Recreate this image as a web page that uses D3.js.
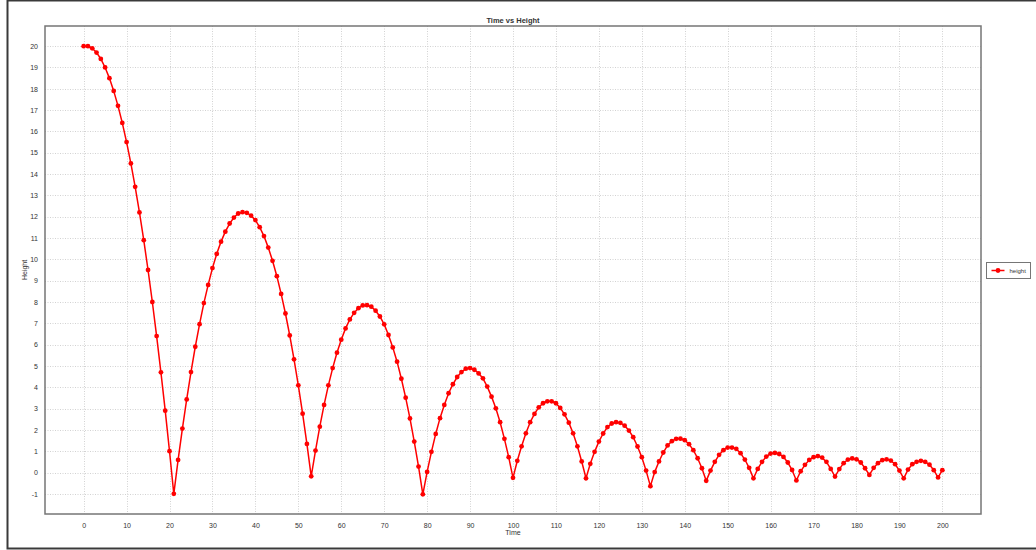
<!DOCTYPE html>
<html>
<head>
    <meta charset="utf-8">
    <title>Time vs Height</title>
    <script src="https://d3js.org/d3.v7.min.js"></script>
    <style>
        body { margin: 0; background: #fff; }
        text { font-family: "Liberation Sans", Arial, sans-serif; fill: #333; }
        .grid line { stroke: #d2d2d2; stroke-width: 1px; stroke-dasharray: 1,1.5; }
        .series path { fill: none; stroke: #ff0000; stroke-width: 1.5px; }
        .series circle { fill: #ff0000; }
    </style>
</head>
<body>
<script type="text/javascript">
    // heights, one array per bounce
    let drop0   = [20, 20, 19.9, 19.7, 19.4, 19.0, 18.5, 17.9, 17.2, 16.4, 15.5, 14.5, 13.4, 12.2, 10.9, 9.5, 8.0, 6.4, 4.7, 2.9, 1.0, -1.0];
    let bounce1 = [0.59, 2.06, 3.43, 4.71, 5.9, 6.96, 7.95, 8.8, 9.59, 10.26, 10.83, 11.3, 11.68, 11.96, 12.15, 12.21, 12.18, 12.05, 11.84, 11.51, 11.09, 10.55, 9.93, 9.21, 8.38, 7.46, 6.43, 5.31, 4.09, 2.76, 1.34, -0.18];
    let bounce2 = [1.03, 2.15, 3.17, 4.09, 4.9, 5.62, 6.23, 6.76, 7.18, 7.49, 7.71, 7.84, 7.85, 7.78, 7.59, 7.32, 6.95, 6.45, 5.87, 5.2, 4.4, 3.51, 2.54, 1.45, 0.28, -1.02];
    let bounce3 = [0.03, 0.97, 1.81, 2.55, 3.17, 3.72, 4.14, 4.48, 4.71, 4.87, 4.9, 4.82, 4.65, 4.42, 4.03, 3.56, 3.01, 2.36, 1.58, 0.72, -0.25];
    let bounce4 = [0.55, 1.23, 1.84, 2.36, 2.75, 3.06, 3.25, 3.34, 3.34, 3.25, 3.03, 2.73, 2.34, 1.84, 1.23, 0.52, -0.27];
    let bounce5 = [0.41, 0.97, 1.45, 1.83, 2.13, 2.3, 2.36, 2.33, 2.2, 1.97, 1.66, 1.22, 0.72, 0.09, -0.64];
    let bounce6 = [0.02, 0.52, 0.94, 1.27, 1.47, 1.58, 1.59, 1.52, 1.33, 1.05, 0.67, 0.2, -0.39];
    let bounce7 = [0.09, 0.5, 0.83, 1.05, 1.17, 1.17, 1.11, 0.91, 0.61, 0.22, -0.27];
    let bounce8 = [0.17, 0.5, 0.75, 0.89, 0.92, 0.87, 0.73, 0.47, 0.12, -0.37];
    let bounce9 = [0.06, 0.36, 0.59, 0.72, 0.77, 0.7, 0.5, 0.17, -0.19];
    let bounce10 = [0.16, 0.44, 0.61, 0.66, 0.62, 0.47, 0.2, -0.11];
    let bounce11 = [0.22, 0.44, 0.58, 0.62, 0.56, 0.39, 0.09, -0.27];
    let bounce12 = [0.14, 0.39, 0.5, 0.55, 0.5, 0.37, 0.11, -0.23, 0.11];

    let xTicks = [0, 10, 20, 30, 40, 50, 60, 70, 80, 90, 100, 110, 120, 130, 140, 150, 160, 170, 180, 190, 200];
    let yTicks = [-1, 0, 1, 2, 3, 4, 5, 6, 7, 8, 9, 10, 11, 12, 13, 14, 15, 16, 17, 18, 19, 20];

    let heights = [].concat(drop0, bounce1, bounce2, bounce3, bounce4, bounce5, bounce6,
                            bounce7, bounce8, bounce9, bounce10, bounce11, bounce12);
    let data = heights.map((h, i) => ({time: i, height: h}));

    let W = 1036, H = 550;
    let pLeft = 45, pRight = 981, pTop = 26, pBottom = 514;

    let svg = d3.select("body").append("svg")
        .attr("width", W)
        .attr("height", H);

    // outer frame
    svg.append("rect")
        .attr("x", 7.5).attr("y", 0.5)
        .attr("width", W + 10).attr("height", 548)
        .attr("fill", "none").attr("stroke", "#3a3a3a").attr("stroke-width", 2);

    let x = d3.scaleLinear().domain([-9, 209]).range([pLeft, pRight]);
    let y = d3.scaleLinear().domain([-1.945, 20.945]).range([pBottom, pTop]);

    // grid
    let grid = svg.append("g").attr("class", "grid");
    grid.selectAll("line.v").data(xTicks).join("line")
        .attr("class", "v")
        .attr("x1", d => Math.round(x(d)) + 0.5).attr("x2", d => Math.round(x(d)) + 0.5)
        .attr("y1", pTop).attr("y2", pBottom);
    grid.selectAll("line.h").data(yTicks).join("line")
        .attr("class", "h")
        .attr("y1", d => Math.round(y(d)) + 0.5).attr("y2", d => Math.round(y(d)) + 0.5)
        .attr("x1", pLeft).attr("x2", pRight);

    // tick labels via d3 axes, no tick lines
    let xAxis = svg.append("g")
        .attr("transform", `translate(0,${pBottom})`)
        .call(d3.axisBottom(x).tickValues(xTicks).tickFormat(d => String(d)).tickSize(0).tickPadding(9));
    let yAxis = svg.append("g")
        .attr("transform", `translate(${pLeft},0)`)
        .call(d3.axisLeft(y).tickValues(yTicks).tickFormat(d => String(d)).tickSize(0).tickPadding(7));
    [xAxis, yAxis].forEach(a => {
        a.select(".domain").remove();
        a.selectAll("text").attr("font-size", "7px").attr("fill", "#333")
            .attr("font-family", "'Liberation Sans', Arial, sans-serif");
    });

    // plot frame
    svg.append("rect")
        .attr("x", pLeft).attr("y", pTop)
        .attr("width", pRight - pLeft).attr("height", pBottom - pTop)
        .attr("fill", "none").attr("stroke", "#767676").attr("stroke-width", 1.5);

    // series
    let line = d3.line().x(d => x(d.time)).y(d => y(d.height));
    let series = svg.append("g").attr("class", "series");
    series.append("path").attr("d", line(data));
    series.selectAll("circle").data(data).join("circle")
        .attr("cx", d => x(d.time))
        .attr("cy", d => y(d.height))
        .attr("r", 2.4);

    // titles
    svg.append("text")
        .attr("x", (pLeft + pRight) / 2).attr("y", 23)
        .attr("text-anchor", "middle")
        .attr("font-size", "7.5px").attr("font-weight", "bold")
        .text("Time vs Height");
    svg.append("text")
        .attr("x", (pLeft + pRight) / 2).attr("y", 535)
        .attr("text-anchor", "middle")
        .attr("font-size", "7px")
        .text("Time");
    svg.append("text")
        .attr("transform", `translate(27,${(pTop + pBottom) / 2}) rotate(-90)`)
        .attr("text-anchor", "middle")
        .attr("font-size", "7px")
        .text("Height");

    // legend
    let legend = svg.append("g").attr("transform", "translate(986.5,262.5)");
    legend.append("rect")
        .attr("width", 44).attr("height", 16)
        .attr("fill", "#fff").attr("stroke", "#767676").attr("stroke-width", 1);
    legend.append("line")
        .attr("x1", 5).attr("x2", 18).attr("y1", 8).attr("y2", 8)
        .attr("stroke", "#ff0000").attr("stroke-width", 1.5);
    legend.append("circle")
        .attr("cx", 11.5).attr("cy", 8).attr("r", 2.4).attr("fill", "#ff0000");
    legend.append("text")
        .attr("x", 23).attr("y", 10.5)
        .attr("font-size", "6px")
        .text("height");
</script>
</body>
</html>
